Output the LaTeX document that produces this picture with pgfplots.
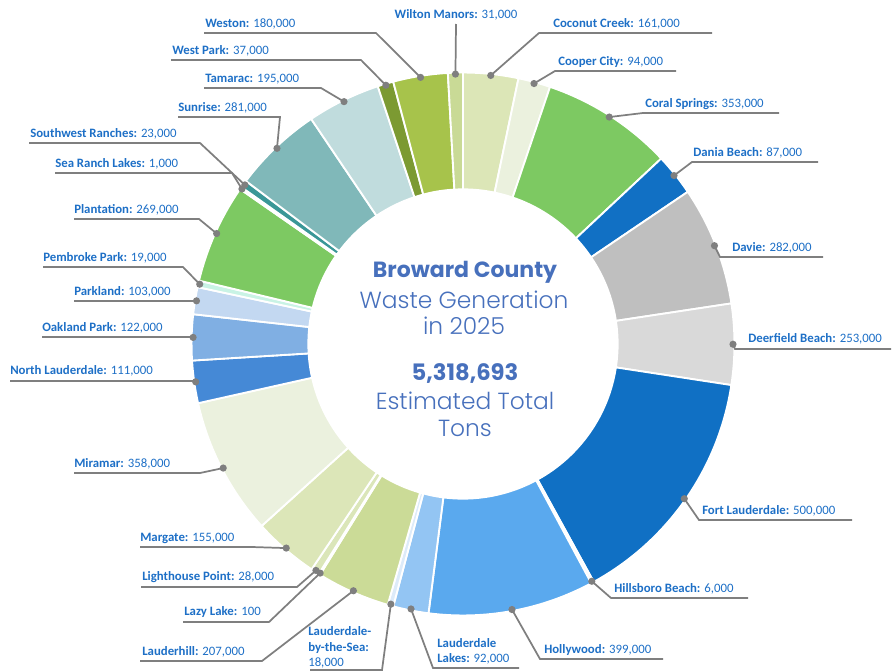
\documentclass[border=0pt]{standalone}
\usepackage{pgfplots}
\pgfplotsset{compat=1.18}
\usepackage{pgfplotstable}
\usepackage{fontspec}
\setmainfont{Carlito}
\newfontfamily\gothic{Poppins}
\newfontfamily\gothiclight{Poppins Light}

\definecolor{labc}{HTML}{1D6FC6}
\definecolor{ctrc}{HTML}{4770BC}
\definecolor{leadc}{HTML}{7F7F7F}

% share of the ring (degrees), slice colour
% order: clockwise from 12 o'clock
\pgfplotstableread[col sep=comma]{
town,deg,hex
CoconutCreek,11.8,DCE6B7
CooperCity,6.9,EBF1DE
CoralSprings,28.2,7DC962
DaniaBeach,9.0,1170C4
Davie,25.5,BFBFBF
DeerfieldBeach,17.3,D9D9D9
FortLauderdale,52.5,1070C4
HillsboroBeach,0.6,F4F8FC
Hollywood,35.5,5AA9EE
LauderdaleLakes,7.6,93C5F3
LauderdaleByTheSea,1.2,DDEBF9
Lauderhill,15.7,CBDB97
LazyLake,0.3,E5EDCF
LighthousePoint,1.8,DBE6B9
Margate,14.0,DCE6B8
Miramar,29.5,EBF1DE
NorthLauderdale,9.1,4589D6
OaklandPark,9.8,80AFE3
Parkland,5.8,C3D8F1
PembrokePark,1.4,C9F3E5
Plantation,21.3,7DC962
SeaRanchLakes,0.5,E8F4F4
SouthwestRanches,1.6,3A9797
Sunrise,19.1,80B8B9
Tamarac,15.7,C0DCDD
WestPark,3.4,7C9A32
Weston,11.7,A7C34B
WiltonManors,3.2,C9DA96
}\slices

\pgfplotstablegetrowsof{\slices}
\pgfmathtruncatemacro\lastrow{\pgfplotsretval-1}
\def\cum{0}
\pgfplotsforeachungrouped \i in {0,...,\lastrow}{%
  \pgfplotstablegetelem{\i}{deg}\of\slices
  \let\val\pgfplotsretval
  \expandafter\let\csname A\i\endcsname\cum
  \pgfmathsetmacro\cum{\cum+\val}%
  \expandafter\let\csname B\i\endcsname\cum
  \pgfplotstablegetelem{\i}{hex}\of\slices
  \edef\tmp{\noexpand\definecolor{s\i}{HTML}{\pgfplotsretval}}\tmp
}
\let\tot\cum
\pgfplotsforeachungrouped \i in {0,...,\lastrow}{%
  \pgfmathsetmacro\tpa{90-(\csname A\i\endcsname/\tot)*360}%
  \expandafter\let\csname pa\i\endcsname\tpa
  \pgfmathsetmacro\tpb{90-(\csname B\i\endcsname/\tot)*360}%
  \expandafter\let\csname pb\i\endcsname\tpb
  \pgfmathsetmacro\tpm{(\tpa+\tpb)/2}%
  \pgfmathsetmacro\tdx{463+270*cos(\tpm)}%
  \pgfmathsetmacro\tdy{344-270*sin(\tpm)}%
  \expandafter\let\csname dx\i\endcsname\tdx
  \expandafter\let\csname dy\i\endcsname\tdy
}

\def\Ro{203.6pt}% 271 px
\def\Ri{116.0pt}% 155 px
\newcommand\drawslice[1]{%
  \edef\qa{\csname pa#1\endcsname}\edef\qb{\csname pb#1\endcsname}%
  \filldraw[fill=s#1, draw=white, line width=1.4pt, line join=round]
    ([shift={(\qa:\Ro)}]O) arc[start angle=\qa, end angle=\qb, radius=\Ro]
    -- ([shift={(\qb:\Ri)}]O) arc[start angle=\qb, end angle=\qa, radius=\Ri] -- cycle;
}
\newcommand\placedot[1]{%
  \edef\qx{\csname dx#1\endcsname}\edef\qy{\csname dy#1\endcsname}%
  \coordinate (d#1) at (axis cs:\qx,\qy);
}
\newcommand\drawdot[1]{\fill[leadc] (d#1) circle[radius=2.7pt];}

\tikzset{
  lbl/.style={text=labc, font=\fontsize{9.6}{11}\selectfont, inner sep=0pt, anchor=base west},
  ll/.style={draw=leadc, line width=1.3pt},
  ctr/.style={text=ctrc, inner sep=0pt, anchor=base},
}

\begin{document}
\begin{tikzpicture}
\begin{axis}[
  x=0.75pt, y=0.75pt,
  xmin=0, xmax=892, ymin=0, ymax=671,
  y dir=reverse,
  hide axis, clip=false,
]
\coordinate (BL) at (axis cs:0,671);
\coordinate (TR) at (axis cs:892,0);
\coordinate (O) at (axis cs:463,344);
\pgfplotsinvokeforeach{0,...,27}{\pgfplotsextra{\drawslice{#1}\placedot{#1}}}

% leader lines
\draw[ll] (d0) -- (axis cs:539,33) -- (axis cs:712,33);
\draw[ll] (d1) -- (axis cs:555,71) -- (axis cs:676,71);
\draw[ll] (d2) -- (axis cs:643,113) -- (axis cs:779,113);
\draw[ll] (d3) -- (axis cs:692,162) -- (axis cs:818,162);
\draw[ll] (d4) -- (axis cs:720,257) -- (axis cs:823,257);
\draw[ll] (d5) -- (axis cs:735,349) -- (axis cs:891,349);
\draw[ll] (d6) -- (axis cs:699,520) -- (axis cs:852,520);
\draw[ll] (d7) -- (axis cs:611,598) -- (axis cs:748,598);
\draw[ll] (d8) -- (axis cs:540,659) -- (axis cs:663,659);
\draw[ll] (d9) -- (axis cs:433,668) -- (axis cs:519,668);
\draw[ll] (d10) -- (axis cs:382,670) -- (axis cs:310,670);
\draw[ll] (d11) -- (axis cs:262,661) -- (axis cs:140,661);
\draw[ll] (d12) -- (axis cs:269,622) -- (axis cs:183,622);
\draw[ll] (d13) -- (axis cs:297,587) -- (axis cs:141,587);
\draw[ll] (d14) -- (axis cs:252,547) -- (axis cs:140,547);
\draw[ll] (d15) -- (axis cs:200,473) -- (axis cs:74,473);
\draw[ll] (d16) -- (axis cs:195,381) -- (axis cs:10,381);
\draw[ll] (d17) -- (axis cs:192,337) -- (axis cs:42,337);
\draw[ll] (d18) -- (axis cs:196,301) -- (axis cs:74,301);
\draw[ll] (d19) -- (axis cs:183,267) -- (axis cs:43,267);
\draw[ll] (d20) -- (axis cs:199,219) -- (axis cs:74,219);
\draw[ll] (d21) -- (axis cs:232,173) -- (axis cs:55,173);
\draw[ll] (d22) -- (axis cs:200,143) -- (axis cs:29,143);
\draw[ll] (d23) -- (axis cs:280,117) -- (axis cs:178,117);
\draw[ll] (d24) -- (axis cs:321,88) -- (axis cs:204,88);
\draw[ll] (d25) -- (axis cs:361,60) -- (axis cs:171,60);
\draw[ll] (d26) -- (axis cs:376,33) -- (axis cs:204,33);
\draw[ll] (d27) -- (axis cs:456,24);
\pgfplotsinvokeforeach{0,...,27}{\pgfplotsextra{\drawdot{#1}}}

% labels
\node[lbl] at (axis cs:553,27) {\textbf{Coconut Creek:} 161,000};
\node[lbl] at (axis cs:558,65) {\textbf{Cooper City:} 94,000};
\node[lbl] at (axis cs:645,107) {\textbf{Coral Springs:} 353,000};
\node[lbl] at (axis cs:693,156) {\textbf{Dania Beach:} 87,000};
\node[lbl] at (axis cs:732,251) {\textbf{Davie:} 282,000};
\node[lbl] at (axis cs:748,342) {\textbf{Deerfield Beach:} 253,000};
\node[lbl] at (axis cs:702,514) {\textbf{Fort Lauderdale:} 500,000};
\node[lbl] at (axis cs:614,592) {\textbf{Hillsboro Beach:} 6,000};
\node[lbl] at (axis cs:544,653) {\textbf{Hollywood:} 399,000};
\node[lbl] at (axis cs:437,647) {\textbf{Lauderdale}};
\node[lbl] at (axis cs:437,662) {\textbf{Lakes:} 92,000};
\node[lbl] at (axis cs:308,635) {\textbf{Lauderdale-}};
\node[lbl] at (axis cs:308,651) {\textbf{by-the-Sea:}};
\node[lbl] at (axis cs:308,666) {18,000};
\node[lbl] at (axis cs:142,655) {\textbf{Lauderhill:} 207,000};
\node[lbl] at (axis cs:184,615) {\textbf{Lazy Lake:} 100};
\node[lbl] at (axis cs:142,580) {\textbf{Lighthouse Point:} 28,000};
\node[lbl] at (axis cs:140,541) {\textbf{Margate:} 155,000};
\node[lbl] at (axis cs:74,467) {\textbf{Miramar:} 358,000};
\node[lbl] at (axis cs:10,374) {\textbf{North Lauderdale:} 111,000};
\node[lbl] at (axis cs:42,331) {\textbf{Oakland Park:} 122,000};
\node[lbl] at (axis cs:74,295) {\textbf{Parkland:} 103,000};
\node[lbl] at (axis cs:43,261) {\textbf{Pembroke Park:} 19,000};
\node[lbl] at (axis cs:74,213) {\textbf{Plantation:} 269,000};
\node[lbl] at (axis cs:55,167) {\textbf{Sea Ranch Lakes:} 1,000};
\node[lbl] at (axis cs:30,137) {\textbf{Southwest Ranches:} 23,000};
\node[lbl] at (axis cs:178,111) {\textbf{Sunrise:} 281,000};
\node[lbl] at (axis cs:205,82) {\textbf{Tamarac:} 195,000};
\node[lbl] at (axis cs:172,54) {\textbf{West Park:} 37,000};
\node[lbl] at (axis cs:205,27) {\textbf{Weston:} 180,000};
\node[lbl, anchor=base] at (axis cs:456,18) {\textbf{Wilton Manors:} 31,000};

% centre text
\node[ctr, font=\gothic\bfseries\fontsize{16.5}{19}\selectfont] at (axis cs:465,277) {Broward County};
\node[ctr, font=\gothiclight\fontsize{17.5}{19}\selectfont] at (axis cs:464,308) {Waste Generation};
\node[ctr, font=\gothiclight\fontsize{17.5}{19}\selectfont] at (axis cs:464,334) {in 2025};
\node[ctr, font=\gothic\bfseries\fontsize{17}{19}\selectfont] at (axis cs:465,380) {5,318,693};
\node[ctr, font=\gothiclight\fontsize{17.5}{19}\selectfont] at (axis cs:465,409) {Estimated Total};
\node[ctr, font=\gothiclight\fontsize{17.5}{19}\selectfont] at (axis cs:465,436) {Tons};
\end{axis}
\pgfresetboundingbox
\path (BL) rectangle (TR);
\end{tikzpicture}
\end{document}
